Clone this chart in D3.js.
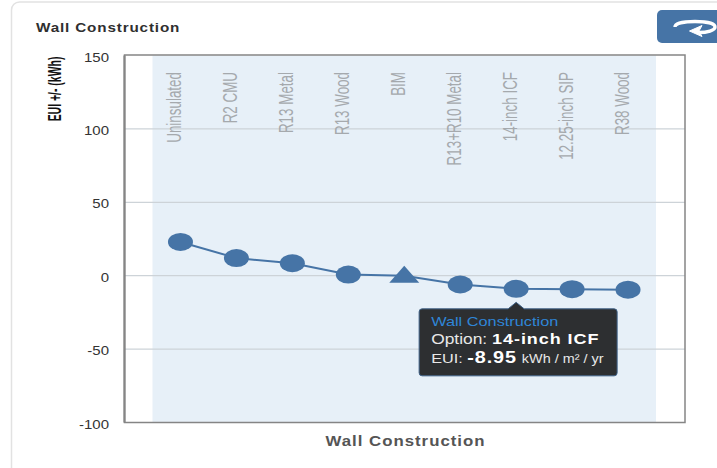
<!DOCTYPE html>
<html><head><meta charset="utf-8">
<style>
html,body{margin:0;padding:0;background:#fff;overflow:hidden}
svg{display:block;font-family:"Liberation Sans",Arial,sans-serif}
</style>
<script src="https://cdn.jsdelivr.net/npm/d3@7/dist/d3.min.js"></script>
</head><body>
<svg id="c" width="717" height="468"></svg>
<script>
const categories=["Uninsulated","R2 CMU","R13 Metal","R13 Wood","BIM","R13+R10 Metal","14-inch ICF","12.25-inch SIP","R38 Wood"];
const values=[23,12,8.5,0.8,0,-6,-8.95,-9.2,-9.5];
const baselineCategory="BIM";
const yTicks=[-100,-50,0,50,100,150];
const chartTitle="Wall Construction";
const xTitle="Wall Construction";
const yTitle="EUI +/- (kWh)";
const highlighted="14-inch ICF";

const svg=d3.select("#c");
const blue="#4674a6";
const L=124.5,R=685,T=55.5,B=422.5,bandL=152.5,bandR=656;
const y=d3.scaleLinear().domain([-100,150]).range([B,T]);
const x=d3.scaleBand().domain(categories).range([bandL,bandR]);
const cx=c=>x(c)+x.bandwidth()/2;

// card
svg.append("path").attr("d","M11.5 468V10a8 8 0 0 1 8-8H717").attr("fill","none").attr("stroke","#e2e2e2").attr("stroke-width",1.5);
// title
svg.append("text").attr("transform","translate(36,32) scale(1.13,1)").attr("font-size",13.5).attr("font-weight","bold").attr("fill","#2f2f2f").attr("letter-spacing",0.75).text(chartTitle);
// button
svg.append("path").attr("d","M717 10H662a5 5 0 0 0-5 5V38a5 5 0 0 0 5 5H717Z").attr("fill",blue);
svg.append("path").attr("d","M675 27C675 23.5 684 21.5 695 21.5C706 21.5 715 23.5 715 27C715 30.5 707 32.5 699 32.5").attr("fill","none").attr("stroke","#fff").attr("stroke-width",3.4);
svg.append("path").attr("d","M702 25.5L689.5 31L702 36.5L699 31Z").attr("fill","#fff").attr("stroke","#fff");

// band
svg.append("rect").attr("x",bandL).attr("y",T).attr("width",bandR-bandL).attr("height",B-T).attr("fill","#e7f0f8");
// grid
svg.append("g").selectAll("line").data(yTicks.filter(d=>d>-100&&d<150)).join("line")
 .attr("x1",L).attr("x2",R).attr("y1",d=>y(d)).attr("y2",d=>y(d)).attr("stroke","#cdd3d8").attr("stroke-width",1.3);
// frame
svg.append("rect").attr("x",L).attr("y",T-.5).attr("width",R-L).attr("height",B-T+.5).attr("fill","none").attr("stroke","#858585").attr("stroke-width",1.5);
svg.append("line").attr("x1",L).attr("x2",L).attr("y1",T).attr("y2",B).attr("stroke","#858585").attr("stroke-width",2.2);

// y axis
const ax=svg.append("g").attr("transform",`translate(${L},0)`).call(d3.axisLeft(y).tickValues(yTicks).tickFormat(d=>String(d)).tickSize(0).tickPadding(0));
ax.select(".domain").remove();
ax.selectAll("text").attr("font-family","'Liberation Sans'").attr("font-size",12.5).attr("fill","#333").attr("dy",null)
 .attr("text-anchor","end").attr("dominant-baseline","alphabetic")
 .attr("transform","translate(-15.5,5.5) scale(1.2,1)");

// category labels
svg.append("g").selectAll("text").data(categories).join("text")
 .attr("transform",d=>`translate(${cx(d)+1},72) rotate(-90) scale(0.67,1)`)
 .attr("text-anchor","end").attr("font-size",20).attr("fill","#a5a9ad").text(d=>d);

// y title
svg.append("text").attr("transform","translate(60.5,89) rotate(-90) scale(0.55,1)").attr("text-anchor","middle")
 .attr("font-size",19).attr("font-weight","bold").attr("fill","#111").text(yTitle);
// x title
svg.append("text").attr("transform","translate(405.5,445.5) scale(1.12,1)").attr("text-anchor","middle").attr("font-size",15).attr("font-weight","bold")
 .attr("letter-spacing",0.9).attr("fill","#555").text(xTitle);

// line and markers
const pts=categories.map((c,i)=>({c,v:values[i]}));
svg.append("path").attr("d",d3.line().x(d=>cx(d.c)).y(d=>y(d.v))(pts)).attr("fill","none").attr("stroke",blue).attr("stroke-width",2);
svg.append("g").selectAll("ellipse").data(pts.filter(d=>d.c!==baselineCategory)).join("ellipse")
 .attr("cx",d=>cx(d.c)).attr("cy",d=>y(d.v)).attr("rx",12.5).attr("ry",9).attr("fill",blue);
svg.append("g").selectAll("path").data(pts.filter(d=>d.c===baselineCategory)).join("path")
 .attr("d",d=>{const px=cx(d.c),py=y(d.v);return `M${px} ${py-10}L${px+15} ${py+7}H${px-15}Z`;}).attr("fill",blue);

// tooltip
const hp=pts.find(d=>d.c===highlighted);
const tx=cx(hp.c),ty=y(hp.v);
const tip=svg.append("g").attr("transform",`translate(${tx},${ty})`);
tip.append("path").attr("d","M-97 23a3 3 0 0 1 3-3H-8L0 13.5L8 20H98a3 3 0 0 1 3 3V84a3 3 0 0 1-3 3H-94a3 3 0 0 1-3-3Z")
 .attr("fill","#2d2f31").attr("stroke","#3f6288").attr("stroke-width",1);
const tl=-85;
tip.append("text").attr("transform",`translate(${tl},37) scale(1.36,1)`).attr("font-size",12).attr("fill","#2f86d8").text("Wall Construction");
const l2=tip.append("text").attr("transform",`translate(${tl},55) scale(1.2,1)`).attr("fill","#fff");
l2.append("tspan").attr("font-size",14.5).attr("fill","#e8e8e8").text("Option: ");
l2.append("tspan").attr("font-size",15).attr("font-weight","bold").attr("letter-spacing",.8).text(hp.c);
const l3=tip.append("text").attr("transform",`translate(${tl},74) scale(1.2,1)`).attr("fill","#fff");
l3.append("tspan").attr("font-size",13.5).attr("fill","#e8e8e8").text("EUI: ");
l3.append("tspan").attr("font-size",16.5).attr("font-weight","bold").attr("letter-spacing",.8).text(String(hp.v));
l3.append("tspan").attr("font-size",12).attr("dx",4).attr("fill","#e8e8e8").text("kWh / m² / yr");
</script>
</body></html>
